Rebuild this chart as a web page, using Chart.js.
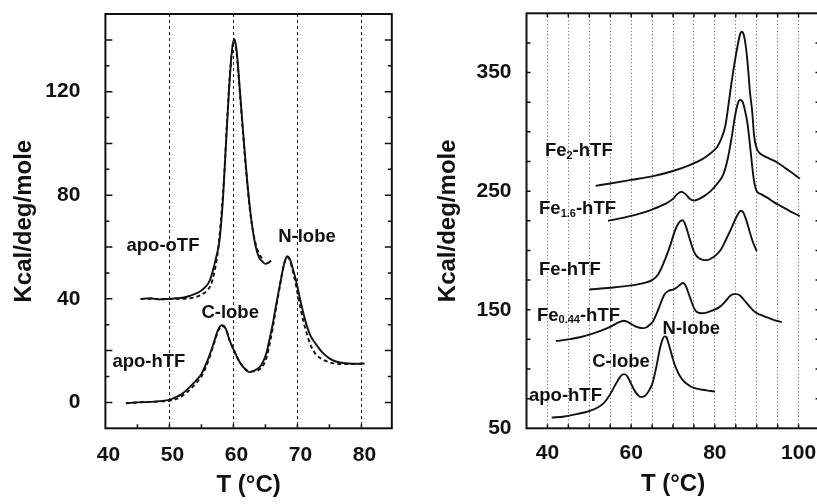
<!DOCTYPE html>
<html><head><meta charset="utf-8">
<script src="https://cdn.jsdelivr.net/npm/chart.js@4.4.1/dist/chart.umd.min.js"></script>
<style>
html,body{margin:0;padding:0;background:#fff;overflow:hidden;width:817px;height:504px;position:relative;}
#c1{position:absolute;left:0;top:0;}
#c2{position:absolute;left:410px;top:0;}
</style></head><body>
<canvas id="c1" width="410" height="504"></canvas>
<canvas id="c2" width="420" height="504"></canvas>
<script>
// ---------- LEFT PANEL DATA ----------
const oTF_T   = [45.5,47,48.5,50,51,52,53,53.7,54.3,55,55.7,56.3,56.8,57.3,57.8,58.3,58.8,59.3,59.7,60.1,60.5,61,61.5,62,62.5,63,63.5,64,64.5,65,65.5,65.9];
const oTF_Cp  = [40,40.2,39.8,40,40.2,40.4,41,41.6,42.2,43.2,44.8,47,51,56,62,76,98,120,134,140.5,136,121,105,90,77,67,60,56,54.5,53.5,54,54.8];
const oTFfit_T  = [45.5,48,50,52,53,54,55,56,56.5,57,57.5,58,58.5,59,59.5,60.1,60.5,61,61.5,62,62.5,63,63.5,64,64.5];
const oTFfit_Cp = [40,40,40,40,40.2,40.6,41.6,43.5,45.5,50,57,69,85,108,128,140,135,120,104,89,76,67,61,57.5,55.5];
const hTF_T   = [43.2,45,47,48.5,50,51,52,53,54,55,56,57,57.6,58.2,58.8,59.4,60.2,61,62,62.5,63.2,64.1,64.7,65.2,65.7,66.2,66.7,67.2,67.7,68.1,68.4,68.8,69.3,69.8,70.5,71.3,72,72.9,74,75,76,77,78,79.2,80.5];
const hTF_Cp  = [-0.3,0,0.2,0.5,1,2,3.3,5.5,8,11,16.5,23.5,28,29.8,28.5,24,19.5,15.5,12.4,11.7,12.2,13.6,16,19.5,25,31,38,44.5,51,55,56.5,55.5,51.5,47,39,31,26,22.5,19,17,15.8,15.3,15,14.9,15];
const hTFfit_T  = [43.2,45,47,48.5,50,51,52,53,54,55,56,57,57.6,58.2,58.8,59.4,60.2,61,62,62.5,63.2,64.1,64.7,65.2,65.7,66.2,66.7,67.2,67.7,68.1,68.4,68.8,69.3,69.8,70.5,71.3,72,72.9,74,75,76,77,78,79.2,80.5];
const hTFfit_Cp = [-0.3,0,0.2,0.4,0.6,1.3,2.5,4.5,7,10,15.5,23,27.5,29.5,28.5,24,19.5,15.5,12.6,12,12,12.8,14.5,17.5,23,29.5,37,44,51,55,56,55,50.5,45,36,28,22.5,18.5,16.5,15.5,15,14.8,14.8,14.8,15];
const leftXTicks = [40,50,60,70,80];
const leftYTicks = [0,40,80,120];

// ---------- RIGHT PANEL DATA ----------
const fe2_T  = [51.5,55,60,65,70,74,77,79,80.5,81.5,82.5,83.3,84,84.7,85.4,86,86.4,86.9,87.4,87.9,88.4,88.9,89.4,90,90.7,91.6,93,95,97,99,100.3];
const fe2_Cp = [254.5,256.5,259.5,262.5,267,272,277,282,287,294,305,324,342,358,372,382,384.5,382,372,355,333,318,296,286,282,280,277.5,274,269,264,260.5];
const fe16_T  = [54.5,58,62,65,68,70,71,72,73,74,75,76,77.5,79,80.5,82,83,84,84.8,85.5,86,86.6,87.2,87.8,88.3,88.8,89.3,90,91,92.5,94,96,98,100.3];
const fe16_Cp = [225,227.5,231,234.5,239,243.5,247.5,249.5,247.5,243.5,242,243,246,250,256,264,276,295,313,324,327,325.5,318,307,292,275,260,250,247.5,244.5,241,237,233,229];
const fe1_T  = [50,55,60,63,65,66.5,67.6,68.5,69.5,70.3,71,71.7,72.3,72.8,73.3,73.8,74.4,75,75.7,76.4,77.2,78,79,80.4,81.5,82.5,83.6,84.6,85.5,86.2,86.8,87.6,88.3,89,90];
const fe1_Cp = [167,168.5,170.5,172.5,175,180,188,196,206,215,221,224.5,225.5,223,218,212,205,199,195,193,192,191.8,193,196.5,201,208,216,224,230.5,233.5,232,224.5,216,208,199.5];
const fe044_T  = [42,45,48,51,53,55,56.5,57.5,58.2,59,60,61,62,62.8,63.6,64.5,65.2,66,67,68,69,70,71,71.7,72.3,72.9,73.5,74.1,74.7,75.3,76,76.8,78,79.5,81,82.5,83.6,84.5,85.2,86,86.8,87.6,88.6,89.6,90.8,92.5,94,96];
const fe044_Cp = [123.5,125,127,130,132.5,135.5,138.5,140,140.7,140,138,136,134.8,134.5,135,137.5,140,146,155,163,166,167,169,171,172.5,171,166,160,154,149.5,147.5,147,147.5,149.5,152,157,161.5,163.2,163.2,162,159,155.6,151.5,148,145.8,143.5,141.5,139.5];
const apoR_T  = [41,44,47,50,52,53.5,54.5,55.5,56.5,57.3,58,58.6,59.3,60,60.7,61.5,62.2,62.8,63.5,64.3,65,65.6,66.2,66.8,67.4,68,68.4,68.9,69.5,70,70.7,71.5,72.5,73.5,75,77,79,80];
const apoR_Cp = [59,60,62,64.5,67.5,71.5,76,82,88.5,93,95.5,95.5,92.5,87.5,82.5,78.5,76.5,76.5,78,82,87,95,105,116,124,127.5,127,122,114.5,108,101,95,90,87,84,82.5,81.5,81];
const rightXTicks = [40,60,80,100];
const rightYTicks = [50,150,250,350];

// ---------- TEXT ----------
const xTitle = 'T (°C)';
const yTitle = 'Kcal/deg/mole';
const leftLabels = [
  {x:43.3, y:60.3, parts:[{t:'apo-oTF'}]},
  {x:67.0, y:63.8, parts:[{t:'N-lobe'}]},
  {x:55.0, y:34.4, parts:[{t:'C-lobe'}]},
  {x:41.1, y:15.5, parts:[{t:'apo-hTF'}]}
];
const rightLabels = [
  {x:39.4, y:283.8, parts:[{t:'Fe'},{t:'2',sub:true},{t:'-hTF'}]},
  {x:38.0, y:234.8, parts:[{t:'Fe'},{t:'1.6',sub:true},{t:'-hTF'}]},
  {x:38.0, y:184.0, parts:[{t:'Fe-hTF'}]},
  {x:37.5, y:145.2, parts:[{t:'Fe'},{t:'0.44',sub:true},{t:'-hTF'}]},
  {x:67.5, y:134.2, parts:[{t:'N-lobe'}]},
  {x:50.7, y:106.3, parts:[{t:'C-lobe'}]},
  {x:35.6, y:77.0, parts:[{t:'apo-hTF'}]}
];

const FONT = "'Liberation Sans', Arial, Helvetica, sans-serif";
const INK = '#111';

function pts(T, C){ return T.map((t,i)=>({x:t, y:C[i]})); }
function line(T, C, dash){
  return {data:pts(T,C), borderColor:INK, borderWidth:1.9, borderDash:dash||[],
    pointRadius:0, showLine:true, fill:false, cubicInterpolationMode:'monotone'};
}

const framePlugin = {
  id:'frame',
  afterDraw(chart, args, o){
    const {ctx, chartArea:a, scales:{x, y}} = chart;
    ctx.save();
    ctx.strokeStyle = INK;
    ctx.lineWidth = o.width;
    ctx.strokeRect(a.left, a.top, a.right-a.left, a.bottom-a.top);
    ctx.lineWidth = 1.5;
    ctx.beginPath();
    for (const t of y.ticks){
      if (t.value % o.yStep !== 0 || t.value <= y.min || t.value >= y.max) continue;
      const p = y.getPixelForValue(t.value);
      const len = (o.yMajor && t.value % o.yMajor === 0) ? o.majorLen : o.len;
      if (o.yLeft){ ctx.moveTo(a.left, p); ctx.lineTo(a.left+len, p); }
      if (o.yRight){ ctx.moveTo(a.right, p); ctx.lineTo(a.right-len, p); }
    }
    for (const t of x.ticks){
      if (t.value % o.xStep !== 0 || t.value <= x.min || t.value >= x.max) continue;
      const p = x.getPixelForValue(t.value);
      if (o.xBottom){ ctx.moveTo(p, a.bottom); ctx.lineTo(p, a.bottom-o.len); }
      if (o.xTop){ ctx.moveTo(p, a.top); ctx.lineTo(p, a.top+o.len); }
    }
    ctx.stroke();
    ctx.restore();
  }
};

const labelPlugin = {
  id:'textLabels',
  afterDatasetsDraw(chart, args, o){
    const {ctx, scales:{x, y}} = chart;
    ctx.save();
    ctx.fillStyle = INK;
    ctx.textBaseline = 'middle';
    ctx.textAlign = 'left';
    for (const L of o.items){
      let px = x.getPixelForValue(L.x);
      const py = y.getPixelForValue(L.y);
      for (const part of L.parts){
        ctx.font = 'bold ' + (part.sub ? o.subSize : o.size) + 'px ' + FONT;
        ctx.fillText(part.t, px, py + (part.sub ? o.subShift : 0));
        px += ctx.measureText(part.t).width;
      }
    }
    ctx.restore();
  }
};

function makeChart(id, cfg){
  const tickFont = {family:FONT, size:21, weight:'bold'};
  const titleFont = {family:FONT, size:24, weight:'bold'};
  return new Chart(document.getElementById(id), {
    type:'scatter',
    data:{datasets:cfg.datasets},
    plugins:[framePlugin, labelPlugin],
    options:{
      responsive:false, animation:false, devicePixelRatio:1,
      layout:{padding:{top:cfg.area.top, right:cfg.canvasW-cfg.area.right, left:0, bottom:0}},
      plugins:{
        legend:{display:false}, tooltip:{enabled:false},
        frame:cfg.frame,
        textLabels:{items:cfg.labels, size:18.5, subSize:11, subShift:5}
      },
      scales:{
        x:{
          type:'linear', min:cfg.xMin, max:cfg.xMax,
          afterFit:s=>{ s.height = 504 - cfg.area.bottom; s.paddingLeft = 0; s.paddingRight = 0; },
          ticks:{stepSize:5, includeBounds:false, autoSkip:false, maxRotation:0, minRotation:0, padding:cfg.xPad, labelOffset:cfg.xLabelOffset,
            color:INK, font:tickFont,
            callback:v=> cfg.xTicks.includes(v) ? String(v) : ''},
          grid:{drawTicks:false, lineWidth:1, borderDash:cfg.gridDash,
            color:c=> (c.tick && cfg.isGrid(c.tick.value)) ? cfg.gridColor : 'rgba(0,0,0,0)'},
          border:{display:false, dash:cfg.gridDash},
          title:{display:true, text:xTitle, color:INK, font:titleFont, padding:{top:0, bottom:cfg.xTitlePad}}
        },
        y:{
          type:'linear', min:cfg.yMin, max:cfg.yMax,
          afterFit:s=>{ s.width = cfg.area.left; s.paddingTop = 0; s.paddingBottom = 0; },
          ticks:{stepSize:cfg.yStep, autoSkip:false, padding:cfg.yPad, color:INK, font:tickFont,
            callback:v=> cfg.yTicks.includes(v) ? String(v) : ''},
          grid:{display:false, drawTicks:false},
          border:{display:false},
          title:{display:true, text:yTitle, color:INK, font:titleFont, padding:{top:cfg.yTitlePad, bottom:0}}
        }
      }
    }
  });
}

makeChart('c1', {
  canvasW:410,
  area:{left:105.4, top:14, right:391.8, bottom:428.3},
  xMin:40, xMax:84.75, yMin:-10, yMax:150, yStep:10,
  xTicks:leftXTicks, yTicks:leftYTicks,
  xPad:14, xLabelOffset:3, yPad:25, xTitlePad:4, yTitlePad:9.5,
  gridDash:[3,3], gridColor:'#222',
  isGrid:v=> v % 10 === 0 && v > 40 && v < 84,
  frame:{width:2, yStep:10, yMajor:20, len:4, majorLen:7, xStep:5, yLeft:true, yRight:true, xBottom:true, xTop:false},
  labels:leftLabels,
  datasets:[
    line(oTFfit_T, oTFfit_Cp, [4,3]),
    line(oTF_T, oTF_Cp),
    line(hTFfit_T, hTFfit_Cp, [4,3]),
    line(hTF_T, hTF_Cp)
  ]
});

makeChart('c2', {
  canvasW:420,
  area:{left:116.5, top:13.3, right:409.5, bottom:428.3},
  xMin:35, xMax:105, yMin:50, yMax:400, yStep:25,
  xTicks:rightXTicks, yTicks:rightYTicks,
  xPad:12, xLabelOffset:0, yPad:15, xTitlePad:5, yTitlePad:23.5,
  gridDash:[1,2.5], gridColor:'#555',
  isGrid:v=> v % 5 === 0 && v > 35 && v < 105,
  frame:{width:2, yStep:25, yMajor:0, len:4, majorLen:4, xStep:5, yLeft:true, yRight:true, xBottom:true, xTop:true},
  labels:rightLabels,
  datasets:[
    line(fe2_T, fe2_Cp),
    line(fe16_T, fe16_Cp),
    line(fe1_T, fe1_Cp),
    line(fe044_T, fe044_Cp),
    line(apoR_T, apoR_Cp)
  ]
});
</script>
</body></html>
